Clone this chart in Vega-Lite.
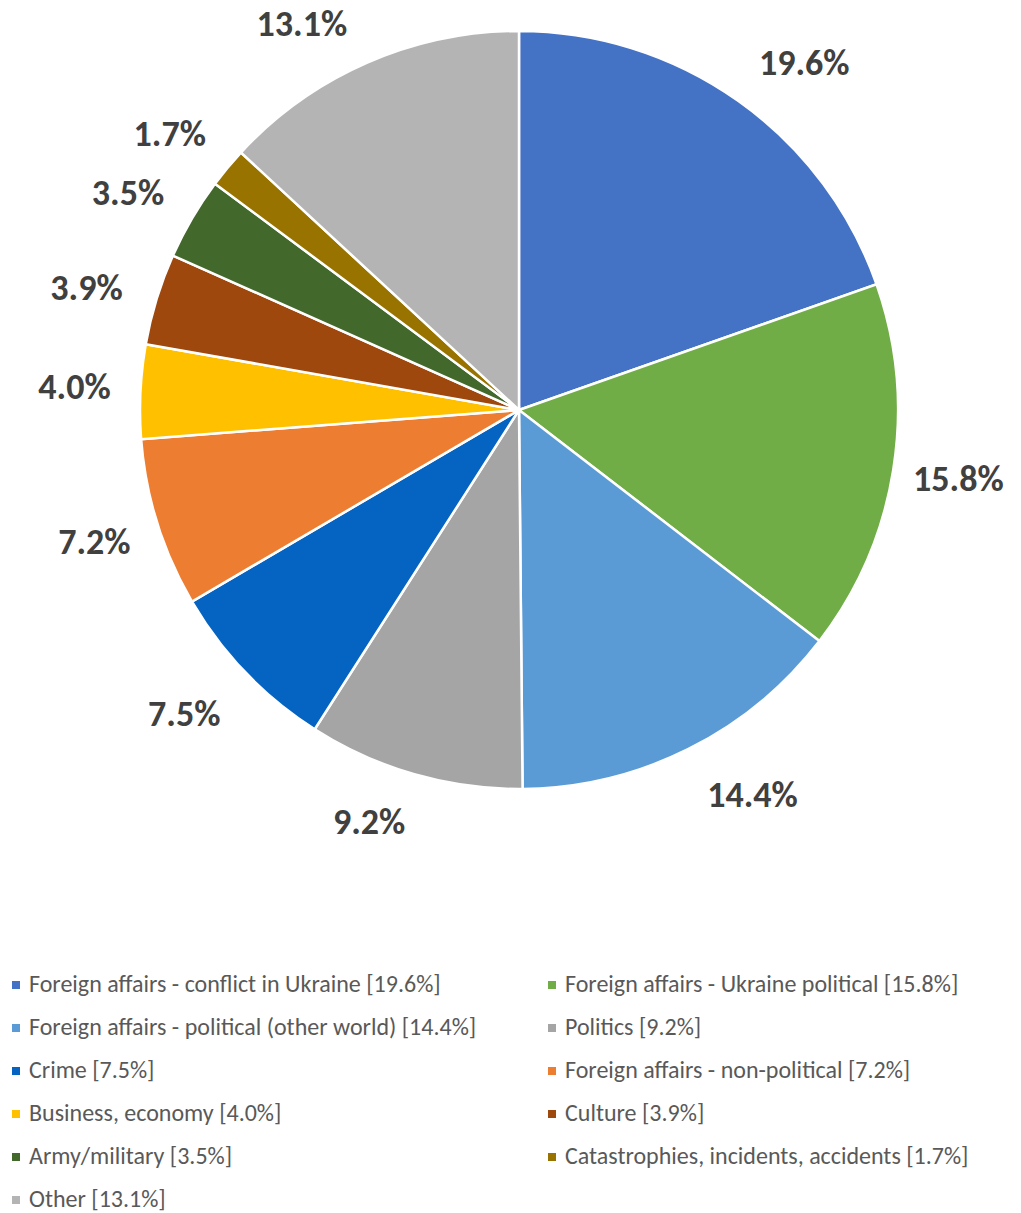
{
  "$schema": "https://vega.github.io/schema/vega-lite/v6.json",
  "width": 1004,
  "height": 820,
  "autosize": {"type": "none"},
  "padding": {"left": 17, "top": 0, "right": 0, "bottom": 393},
  "background": "white",
  "view": {"stroke": null},
  "data": {
    "values": [
      {"idx": 1, "topic": "Foreign affairs - conflict in Ukraine [19.6%]", "share": 19.6, "label": "19.6%"},
      {"idx": 2, "topic": "Foreign affairs - Ukraine political [15.8%]", "share": 15.8, "label": "15.8%"},
      {"idx": 3, "topic": "Foreign affairs - political (other world) [14.4%]", "share": 14.4, "label": "14.4%"},
      {"idx": 4, "topic": "Politics [9.2%]", "share": 9.2, "label": "9.2%"},
      {"idx": 5, "topic": "Crime [7.5%]", "share": 7.5, "label": "7.5%"},
      {"idx": 6, "topic": "Foreign affairs - non-political [7.2%]", "share": 7.2, "label": "7.2%"},
      {"idx": 7, "topic": "Business, economy [4.0%]", "share": 4.0, "label": "4.0%"},
      {"idx": 8, "topic": "Culture [3.9%]", "share": 3.9, "label": "3.9%"},
      {"idx": 9, "topic": "Army/military [3.5%]", "share": 3.5, "label": "3.5%"},
      {"idx": 10, "topic": "Catastrophies, incidents, accidents [1.7%]", "share": 1.7, "label": "1.7%"},
      {"idx": 11, "topic": "Other [13.1%]", "share": 13.1, "label": "13.1%"}
    ]
  },
  "encoding": {
    "theta": {"field": "share", "type": "quantitative", "stack": true, "scale": {"domain": [0, 99.9]}},
    "order": {"field": "idx", "type": "quantitative"}
  },
  "layer": [
    {
      "mark": {"type": "arc", "outerRadius": 379, "stroke": "white", "strokeWidth": 2.5},
      "encoding": {
        "color": {
          "field": "topic",
          "type": "nominal",
          "sort": null,
          "scale": {
            "domain": [
              "Foreign affairs - conflict in Ukraine [19.6%]",
              "Foreign affairs - Ukraine political [15.8%]",
              "Foreign affairs - political (other world) [14.4%]",
              "Politics [9.2%]",
              "Crime [7.5%]",
              "Foreign affairs - non-political [7.2%]",
              "Business, economy [4.0%]",
              "Culture [3.9%]",
              "Army/military [3.5%]",
              "Catastrophies, incidents, accidents [1.7%]",
              "Other [13.1%]"
            ],
            "range": ["#4472C4", "#70AD47", "#5B9BD5", "#A5A5A5", "#0563C1", "#ED7D31", "#FFC000", "#9E480E", "#43682B", "#997300", "#B4B4B4"]
          },
          "legend": {
            "title": null,
            "orient": "none",
            "direction": "horizontal",
            "legendX": -13,
            "legendY": 973,
            "columns": 2,
            "columnPadding": 63,
            "rowPadding": 19,
            "padding": 0,
            "symbolType": "square",
            "symbolSize": 64,
            "symbolStrokeWidth": 0,
            "labelFont": "Carlito, Lato",
            "labelFontSize": 24,
            "labelColor": "#595959",
            "labelOffset": 1,
            "labelLimit": 700
          }
        }
      }
    },
    {
      "mark": {"type": "text", "radius": 445, "font": "Carlito, Lato", "fontSize": 36, "fontWeight": "bold", "align": "center", "baseline": "middle", "fill": "#404040"},
      "encoding": {"text": {"condition": {"test": "indexof([2, 6, 7], datum.idx) >= 0", "field": "label"}, "value": ""}}
    },
    {
      "mark": {"type": "text", "radius": 445, "dx": 28, "dy": 17, "font": "Carlito, Lato", "fontSize": 36, "fontWeight": "bold", "align": "center", "baseline": "middle", "fill": "#404040"},
      "encoding": {"text": {"condition": {"test": "datum.idx == 1", "field": "label"}, "value": ""}}
    },
    {
      "mark": {"type": "text", "radius": 445, "dx": 35, "dy": -12, "font": "Carlito, Lato", "fontSize": 36, "fontWeight": "bold", "align": "center", "baseline": "middle", "fill": "#404040"},
      "encoding": {"text": {"condition": {"test": "datum.idx == 3", "field": "label"}, "value": ""}}
    },
    {
      "mark": {"type": "text", "radius": 445, "dx": -27, "dy": -15, "font": "Carlito, Lato", "fontSize": 36, "fontWeight": "bold", "align": "center", "baseline": "middle", "fill": "#404040"},
      "encoding": {"text": {"condition": {"test": "datum.idx == 4", "field": "label"}, "value": ""}}
    },
    {
      "mark": {"type": "text", "radius": 445, "dx": -14, "dy": -3, "font": "Carlito, Lato", "fontSize": 36, "fontWeight": "bold", "align": "center", "baseline": "middle", "fill": "#404040"},
      "encoding": {"text": {"condition": {"test": "datum.idx == 5", "field": "label"}, "value": ""}}
    },
    {
      "mark": {"type": "text", "radius": 445, "dx": -7, "dy": 9, "font": "Carlito, Lato", "fontSize": 36, "fontWeight": "bold", "align": "center", "baseline": "middle", "fill": "#404040"},
      "encoding": {"text": {"condition": {"test": "indexof([8, 9, 10], datum.idx) >= 0", "field": "label"}, "value": ""}}
    },
    {
      "mark": {"type": "text", "radius": 445, "dx": -39, "dy": 23, "font": "Carlito, Lato", "fontSize": 36, "fontWeight": "bold", "align": "center", "baseline": "middle", "fill": "#404040"},
      "encoding": {"text": {"condition": {"test": "datum.idx == 11", "field": "label"}, "value": ""}}
    }
  ]
}
